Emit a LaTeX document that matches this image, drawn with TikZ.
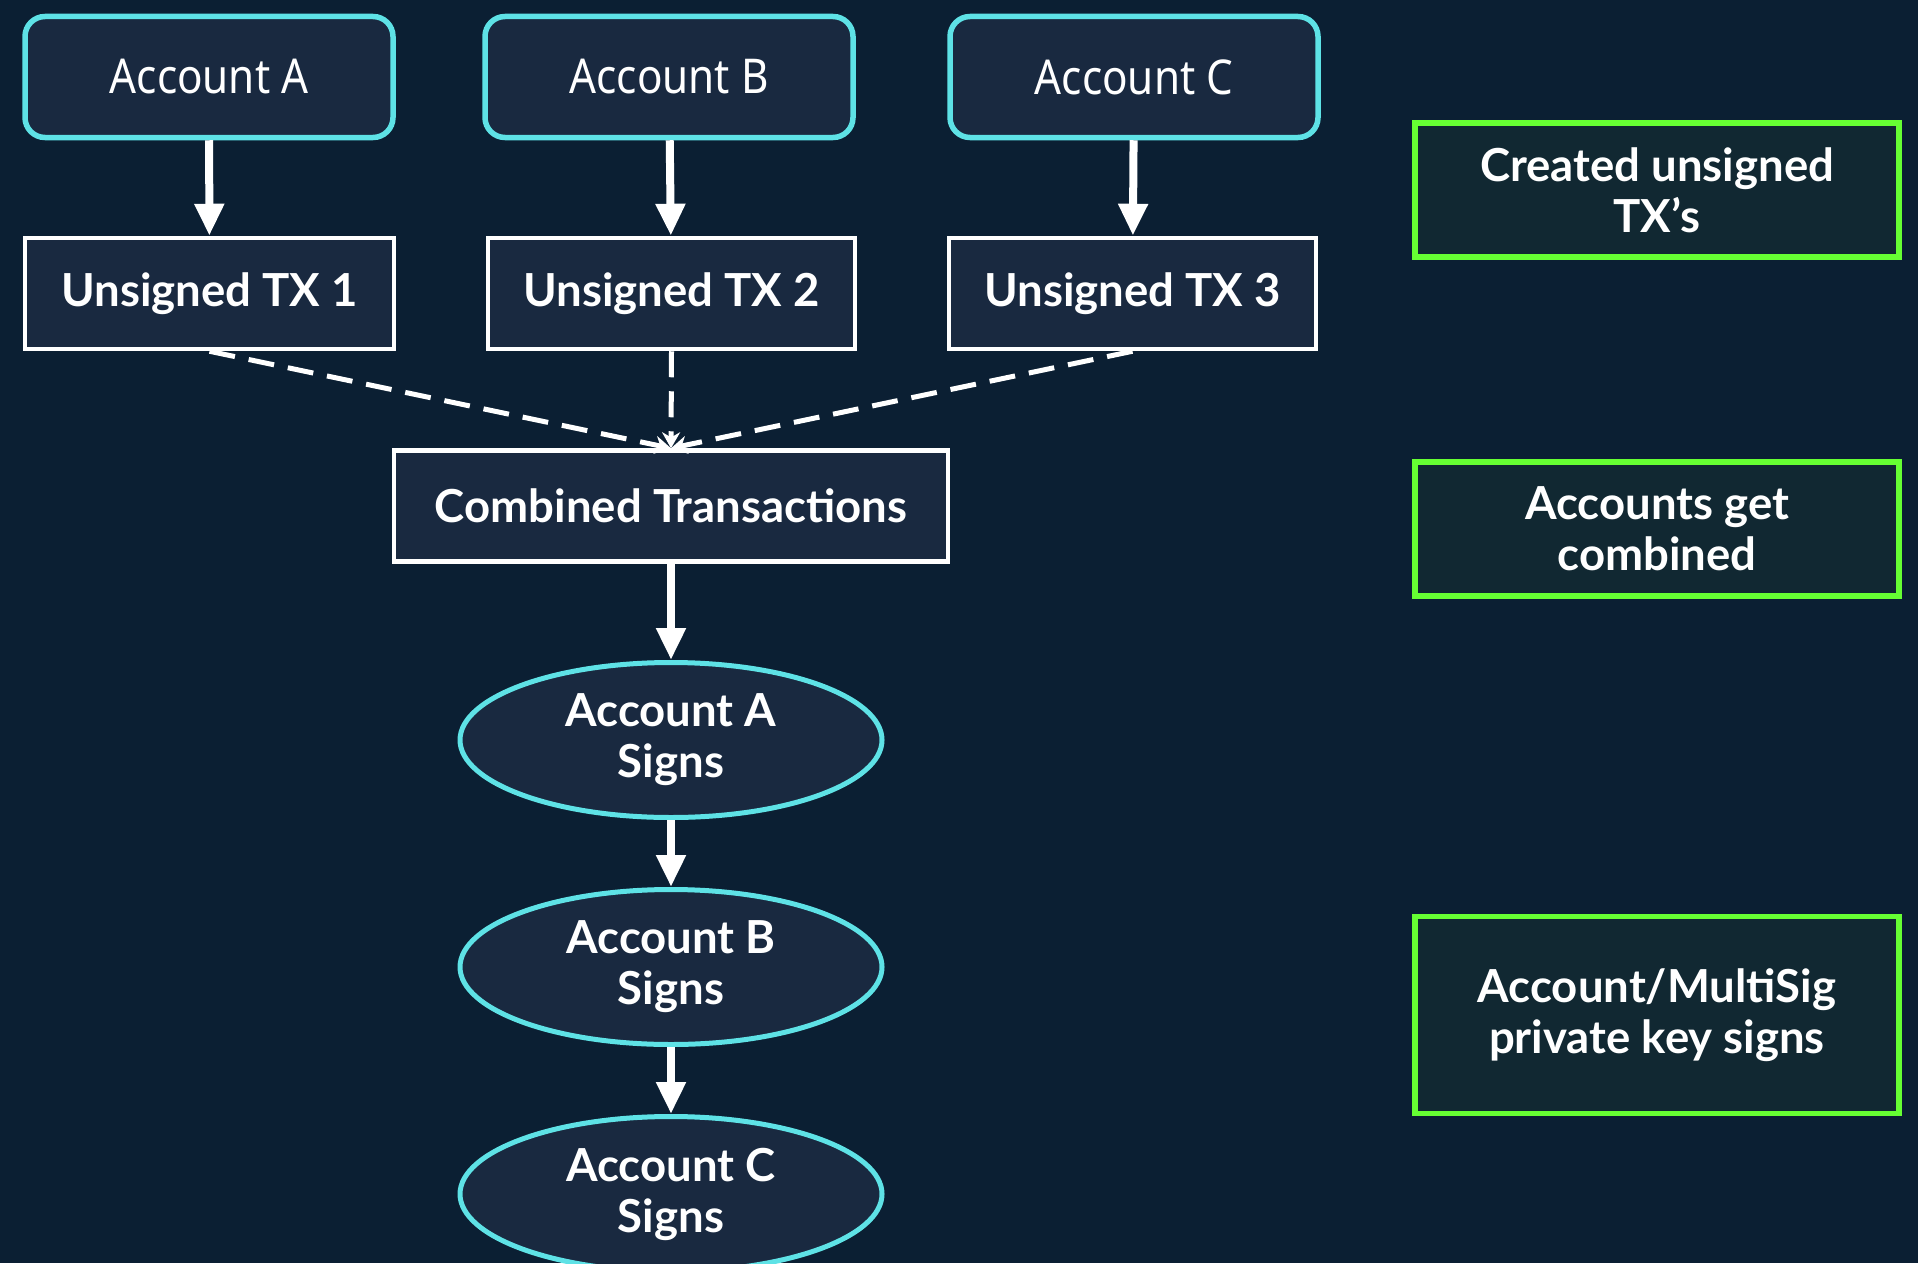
\documentclass[tikz,border=0pt]{standalone}
\usepackage{fontspec}
\setmainfont{Lato}
\newfontfamily\acctfont[FakeStretch=0.88]{Noto Sans}
\usetikzlibrary{arrows.meta, positioning, shapes.geometric}
\definecolor{bgnavy}{RGB}{11,31,51}
\definecolor{boxfill}{RGB}{25,41,64}
\definecolor{signcyan}{RGB}{94,226,230}
\definecolor{notegreen}{RGB}{102,255,51}
\definecolor{notefill}{RGB}{17,40,50}

\begin{document}
\begin{tikzpicture}[x=1pt, y=-1pt, >=Stealth,
    acct/.style={draw=signcyan, line width=5.5pt, fill=boxfill, rounded corners=20pt,
      minimum width=368pt, minimum height=121pt, inner sep=0pt,
      text=white, font=\acctfont\fontsize{48}{56}\selectfont},
    txbox/.style={draw=white, line width=4.5pt, fill=boxfill,
      minimum height=111pt, inner sep=0pt,
      text=white, font=\bfseries\fontsize{45.5}{52}\selectfont},
    signbox/.style={ellipse, draw=signcyan, line width=5pt, fill=boxfill,
      minimum width=422pt, minimum height=155pt, inner sep=0pt,
      align=center, text=white, font=\bfseries\fontsize{45.5}{51}\selectfont},
    notebox/.style={draw=notegreen, line width=5.5pt, fill=notefill,
      minimum width=484pt, inner sep=0pt, align=center,
      text=white, font=\bfseries\fontsize{45.5}{51}\selectfont},
    flow/.style={-{Triangle[width=28pt, length=32pt]}, white, line width=8pt},
    merge/.style={-{Stealth[width=18pt, length=16pt]}, white, line width=5pt,
      dash pattern=on 26pt off 14pt}]
  \clip (0,0) rectangle (1918,1263);
  \fill[bgnavy] (0,0) rectangle (1918,1263);

  % Accounts
  \node[acct] (accA) at (209,77) {Account A};
  \node[acct] (accB) at (669,77) {Account B};
  \node[acct] (accC) at (1134,77) {Account C};

  % Unsigned transactions
  \node[txbox, minimum width=369pt] (tx1) at (209.5,293.5) {Unsigned TX 1};
  \node[txbox, minimum width=367pt] (tx2) at (671.5,293.5) {Unsigned TX 2};
  \node[txbox, minimum width=367pt] (tx3) at (1132.5,293.5) {Unsigned TX 3};
  \node[txbox, minimum width=554pt] (comb) at (671,506) {Combined Transactions};

  % Signing chain
  \node[signbox] (sigA) at (671,740) {Account A\\Signs};
  \node[signbox, below=67pt of sigA] (sigB) {Account B\\Signs};
  \node[signbox, below=67pt of sigB] (sigC) {Account C\\Signs};

  % Notes
  \node[notebox, minimum height=134pt] (noteTx) at (1657,190) {Created unsigned\\TX’s};
  \node[notebox, minimum height=134pt] (noteComb) at (1657,529) {Accounts get\\combined};
  \node[notebox, minimum height=197pt] (noteSign) at (1657,1015) {Account/MultiSig\\private key signs};

  % Arrows
  \draw[flow] (accA) -- (tx1);
  \draw[flow] (accB) -- (tx2);
  \draw[flow] (accC) -- (tx3);
  \draw[merge] (tx1.south) -- (comb.north);
  \draw[merge] (tx2.south) -- (comb.north);
  \draw[merge] (tx3.south) -- (comb.north);
  \draw[flow] (comb) -- (sigA);
  \draw[flow] (sigA) -- (sigB);
  \draw[flow] (sigB) -- (sigC);
\end{tikzpicture}
\end{document}
